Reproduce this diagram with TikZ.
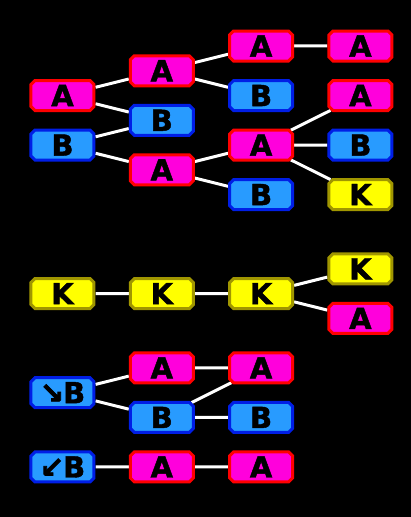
\documentclass[tikz,border=0pt]{standalone}
\usepackage{fontspec}
\newfontfamily\tilefont{DejaVu Sans Bold}[FakeBold=1.5]
\newfontfamily\arrowfont{DejaVu Sans Bold}[FakeBold=2.5]
\usetikzlibrary{shapes.misc,backgrounds}

\definecolor{tileMagenta}{RGB}{255,0,220}
\definecolor{tileRed}{RGB}{255,0,0}
\definecolor{tileSky}{RGB}{40,155,255}
\definecolor{tileBlue}{RGB}{0,30,230}
\definecolor{tileYellow}{RGB}{255,255,0}
\definecolor{tileOlive}{RGB}{160,150,0}

\tikzset{
  tile/.style={chamfered rectangle, chamfered rectangle xsep=2pt,
    chamfered rectangle ysep=2pt, line width=3pt, minimum width=63pt,
    minimum height=30pt, inner sep=0pt, text=black,
    font=\tilefont\fontsize{29}{29}\selectfont},
  tileA/.style={tile, draw=tileRed, fill=tileMagenta},
  tileB/.style={tile, draw=tileBlue, fill=tileSky},
  tileK/.style={tile, draw=tileOlive, fill=tileYellow},
  link/.style={white, line width=3pt}
}

\begin{document}
\begin{tikzpicture}[x=1pt,y=-1pt]
    \def\ix{99.3}\def\iy{24.76}
    \begin{pgfonlayer}{background}
      \fill [black] (-62.5,-46) rectangle (348.5,471);
    \end{pgfonlayer}
    \def\showTiles{
      \foreach \c/\r/\t in {0/2/A, 0/4/B, 1/1/A, 1/3/B, 1/5/A,
        2/0/A, 2/2/B, 2/4/A, 2/6/B, 3/0/A, 3/2/A, 3/4/B, 3/6/K,
        0/10/K, 1/10/K, 2/10/K, 3/9/K, 3/11/A,
        1/13/A, 1/15/B, 2/13/A, 2/15/B, 1/17/A, 2/17/A}
      \node [tile\t] (n\c-\r) at (\c*\ix,\r*\iy) {\t};
      % Tiles with arrows
      \node [tileB] (n0-14) at (0,14*\iy) {{\arrowfont ↘}\kern-1ptB};
      \node [tileB] (n0-17) at (0,17*\iy) {{\arrowfont ↙}\kern-1ptB};
    }
    \def\showLinks{
      \begin{pgfonlayer}{background}
        \foreach \a/\b in {n0-2/n1-1, n0-2/n1-3, n0-4/n1-3, n0-4/n1-5,
          n1-1/n2-0, n1-1/n2-2, n1-5/n2-4, n1-5/n2-6,
          n2-0/n3-0, n2-4/n3-2, n2-4/n3-4, n2-4/n3-6,
          n0-10/n1-10, n1-10/n2-10, n2-10/n3-9, n2-10/n3-11,
          n0-14/n1-13, n0-14/n1-15, n1-13/n2-13, n1-15/n2-13, n1-15/n2-15,
          n0-17/n1-17, n1-17/n2-17}
        \draw [link] (\a) -- (\b);
      \end{pgfonlayer}
    }
    \showTiles
    \showLinks
  \end{tikzpicture}
\end{document}
